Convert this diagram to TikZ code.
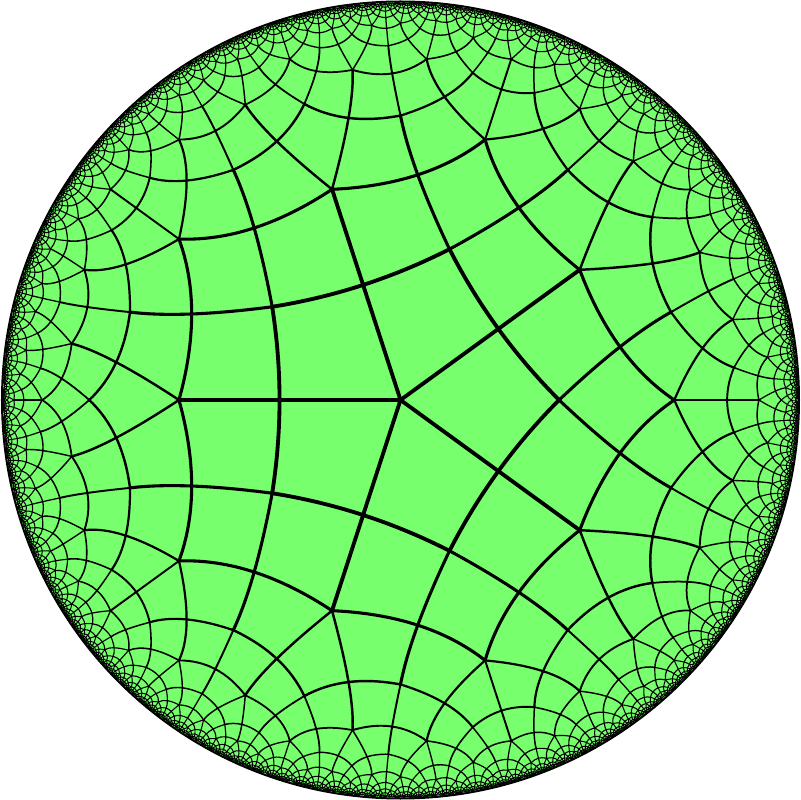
\documentclass[tikz,border=0pt]{standalone}
\usepackage{tikz}
\definecolor{hygreen}{RGB}{120,255,110}
\ExplSyntaxOn
\fp_const:Nn \c_hy_cot_fp { 1 / tan ( pi / 5 ) }
\fp_const:Nn \c_hy_rv_fp { sqrt ( ( \c_hy_cot_fp - 1 ) / ( \c_hy_cot_fp + 1 ) ) }
\fp_const:Nn \c_hy_al_fp { cos ( pi / 5 ) / sin ( pi / 4 ) }
\fp_const:Nn \c_hy_be_fp { sqrt ( \c_hy_al_fp ^ 2 - 1 ) }
\fp_const:Nn \c_hy_rm_fp { sqrt ( ( \c_hy_al_fp - 1 ) / ( \c_hy_al_fp + 1 ) ) }
\fp_const:Nn \c_hy_R_fp { 398.5 }
\fp_const:Nn \c_hy_eps_fp { 0.008 }
\fp_const:Nn \c_hy_wzero_fp { 3.3 }
\fp_const:Nn \c_hy_wmin_fp { 0.85 }
\int_step_inline:nnn { 0 } { 3 }
  {
    \fp_const:cn { c_hy_vx_#1_fp } { \c_hy_rv_fp * cosd ( -36 + 90 * #1 ) }
    \fp_const:cn { c_hy_vy_#1_fp } { \c_hy_rv_fp * sind ( -36 + 90 * #1 ) }
    \fp_const:cn { c_hy_mx_#1_fp } { \c_hy_rm_fp * cosd ( 9 + 90 * #1 ) }
    \fp_const:cn { c_hy_my_#1_fp } { \c_hy_rm_fp * sind ( 9 + 90 * #1 ) }
    \fp_const:cn { c_hy_s_#1_fp } { sind ( 9 + 90 * #1 ) }
    \fp_const:cn { c_hy_c_#1_fp } { cosd ( 9 + 90 * #1 ) }
    \fp_new:c { l_hy_Vx_#1_fp }
    \fp_new:c { l_hy_Vy_#1_fp }
    \fp_new:c { l_hy_Mx_#1_fp }
    \fp_new:c { l_hy_My_#1_fp }
  }
\fp_new:N \l_hy_ar_fp
\fp_new:N \l_hy_ai_fp
\fp_new:N \l_hy_br_fp
\fp_new:N \l_hy_bi_fp
\fp_new:N \l_hy_har_fp
\fp_new:N \l_hy_hai_fp
\fp_new:N \l_hy_hbr_fp
\fp_new:N \l_hy_hbi_fp
\fp_new:N \l_hy_cx_fp
\fp_new:N \l_hy_cy_fp
\fp_new:N \l_hy_nx_fp
\fp_new:N \l_hy_ny_fp
\fp_new:N \l_hy_px_fp
\fp_new:N \l_hy_py_fp
\fp_new:N \l_hy_nr_fp
\fp_new:N \l_hy_ni_fp
\fp_new:N \l_hy_dr_fp
\fp_new:N \l_hy_di_fp
\fp_new:N \l_hy_dd_fp
\fp_new:N \l_hy_w_fp
\int_new:N \g_hy_head_int
\int_new:N \g_hy_tail_int
\int_new:N \l_hy_pos_int
\tl_new:N \l_hy_key_tl
\tl_new:N \l_hy_self_tl
\fparray_new:Nn \g_hy_store_fparray { 64000 }

\cs_new_protected:Npn \hy_apply:NN #1#2
  {
    \fp_set:Nn \l_hy_nr_fp { \l_hy_ar_fp * #1 - \l_hy_ai_fp * #2 + \l_hy_br_fp }
    \fp_set:Nn \l_hy_ni_fp { \l_hy_ar_fp * #2 + \l_hy_ai_fp * #1 + \l_hy_bi_fp }
    \fp_set:Nn \l_hy_dr_fp { \l_hy_br_fp * #1 + \l_hy_bi_fp * #2 + \l_hy_ar_fp }
    \fp_set:Nn \l_hy_di_fp { \l_hy_br_fp * #2 - \l_hy_bi_fp * #1 - \l_hy_ai_fp }
    \fp_set:Nn \l_hy_dd_fp { \l_hy_dr_fp ^ 2 + \l_hy_di_fp ^ 2 }
    \fp_set:Nn \l_hy_px_fp { ( \l_hy_nr_fp * \l_hy_dr_fp + \l_hy_ni_fp * \l_hy_di_fp ) / \l_hy_dd_fp }
    \fp_set:Nn \l_hy_py_fp { ( \l_hy_ni_fp * \l_hy_dr_fp - \l_hy_nr_fp * \l_hy_di_fp ) / \l_hy_dd_fp }
  }
\cs_generate_variant:Nn \hy_apply:NN { cc }

\cs_new_protected:Npn \hy_center:NNNNNN #1#2#3#4#5#6
  {
    \fp_set:Nn \l_hy_dd_fp { #1 ^ 2 + #2 ^ 2 }
    \fp_set:Nn #5 { ( #3 * #1 - #4 * #2 ) / \l_hy_dd_fp }
    \fp_set:Nn #6 { ( #3 * #2 + #4 * #1 ) / \l_hy_dd_fp }
  }

\cs_new_protected:Npn \hy_key:NNN #1#2#3
  {
    \tl_set:Nx #3
      {
        \fp_eval:n { round ( #1 * 100000 + 200000 ) } /
        \fp_eval:n { round ( #2 * 100000 + 200000 ) }
      }
  }

\cs_new_protected:Npn \hy_curve:NNNNNN #1#2#3#4#5#6
  {
    \fp_set:Nn \l_hy_w_fp
      { \c_hy_wmin_fp + \c_hy_wzero_fp * abs ( 1 - #3 ^ 2 - #4 ^ 2 ) }
    \exp_args:Nx \pgfsetlinewidth { \fp_to_dim:N \l_hy_w_fp }
    \pgfpathmoveto
      { \pgfqpoint { \fp_to_dim:n { \c_hy_R_fp * #1 } } { \fp_to_dim:n { \c_hy_R_fp * #2 } } }
    \pgfpathcurveto
      { \pgfqpoint { \fp_to_dim:n { \c_hy_R_fp * ( 4 * #3 - #5 ) / 3 } }
                   { \fp_to_dim:n { \c_hy_R_fp * ( 4 * #4 - #6 ) / 3 } } }
      { \pgfqpoint { \fp_to_dim:n { \c_hy_R_fp * ( 4 * #3 - #1 ) / 3 } }
                   { \fp_to_dim:n { \c_hy_R_fp * ( 4 * #4 - #2 ) / 3 } } }
      { \pgfqpoint { \fp_to_dim:n { \c_hy_R_fp * #5 } } { \fp_to_dim:n { \c_hy_R_fp * #6 } } }
    \pgfusepath { stroke }
  }
\cs_generate_variant:Nn \hy_curve:NNNNNN { cccccc , NNccNN }

\cs_new_protected:Npn \hy_push:
  {
    \int_compare:nT { \g_hy_tail_int < 15990 }
      {
        \int_gincr:N \g_hy_tail_int
        \int_set:Nn \l_hy_pos_int { 4 * \g_hy_tail_int - 3 }
        \fparray_gset:Nnn \g_hy_store_fparray { \l_hy_pos_int } { \l_hy_har_fp }
        \fparray_gset:Nnn \g_hy_store_fparray { \l_hy_pos_int + 1 } { \l_hy_hai_fp }
        \fparray_gset:Nnn \g_hy_store_fparray { \l_hy_pos_int + 2 } { \l_hy_hbr_fp }
        \fparray_gset:Nnn \g_hy_store_fparray { \l_hy_pos_int + 3 } { \l_hy_hbi_fp }
        \cs_gset:cpn { hyq@ \l_hy_key_tl } { }
      }
  }

\cs_new_protected:Npn \hy_points:n #1
  {
    \hy_apply:cc { c_hy_vx_#1_fp } { c_hy_vy_#1_fp }
    \fp_set_eq:cN { l_hy_Vx_#1_fp } \l_hy_px_fp
    \fp_set_eq:cN { l_hy_Vy_#1_fp } \l_hy_py_fp
    \hy_apply:cc { c_hy_mx_#1_fp } { c_hy_my_#1_fp }
    \fp_set_eq:cN { l_hy_Mx_#1_fp } \l_hy_px_fp
    \fp_set_eq:cN { l_hy_My_#1_fp } \l_hy_py_fp
  }

\cs_new_protected:Npn \hy_edge:nn #1#2
  {
    \fp_set:Nn \l_hy_har_fp
      { - \c_hy_al_fp * \l_hy_ai_fp + \c_hy_be_fp * ( \l_hy_br_fp * \use:c { c_hy_s_#1_fp } - \l_hy_bi_fp * \use:c { c_hy_c_#1_fp } ) }
    \fp_set:Nn \l_hy_hai_fp
      { \c_hy_al_fp * \l_hy_ar_fp + \c_hy_be_fp * ( \l_hy_br_fp * \use:c { c_hy_c_#1_fp } + \l_hy_bi_fp * \use:c { c_hy_s_#1_fp } ) }
    \fp_set:Nn \l_hy_hbr_fp
      { \c_hy_be_fp * ( \l_hy_ar_fp * \use:c { c_hy_s_#1_fp } + \l_hy_ai_fp * \use:c { c_hy_c_#1_fp } ) + \c_hy_al_fp * \l_hy_bi_fp }
    \fp_set:Nn \l_hy_hbi_fp
      { \c_hy_be_fp * ( \l_hy_ai_fp * \use:c { c_hy_s_#1_fp } - \l_hy_ar_fp * \use:c { c_hy_c_#1_fp } ) - \c_hy_al_fp * \l_hy_br_fp }
    \hy_center:NNNNNN \l_hy_har_fp \l_hy_hai_fp \l_hy_hbr_fp \l_hy_hbi_fp \l_hy_nx_fp \l_hy_ny_fp
    \hy_key:NNN \l_hy_nx_fp \l_hy_ny_fp \l_hy_key_tl
    \cs_if_exist:cF { hyd@ \l_hy_key_tl }
      {
        \hy_curve:cccccc { l_hy_Vx_#1_fp } { l_hy_Vy_#1_fp } { l_hy_Mx_#1_fp } { l_hy_My_#1_fp } { l_hy_Vx_#2_fp } { l_hy_Vy_#2_fp }
        \hy_curve:NNccNN \l_hy_cx_fp \l_hy_cy_fp { l_hy_Mx_#1_fp } { l_hy_My_#1_fp } \l_hy_nx_fp \l_hy_ny_fp
        \cs_if_exist:cF { hyq@ \l_hy_key_tl }
          {
            \fp_compare:nT { 1 - \l_hy_nx_fp ^ 2 - \l_hy_ny_fp ^ 2 > \c_hy_eps_fp }
              { \hy_push: }
          }
      }
  }

\cs_new_protected:Npn \hy_process:
  {
    \int_set:Nn \l_hy_pos_int { 4 * \g_hy_head_int - 3 }
    \fp_set:Nn \l_hy_ar_fp { \fparray_item:Nn \g_hy_store_fparray { \l_hy_pos_int } }
    \fp_set:Nn \l_hy_ai_fp { \fparray_item:Nn \g_hy_store_fparray { \l_hy_pos_int + 1 } }
    \fp_set:Nn \l_hy_br_fp { \fparray_item:Nn \g_hy_store_fparray { \l_hy_pos_int + 2 } }
    \fp_set:Nn \l_hy_bi_fp { \fparray_item:Nn \g_hy_store_fparray { \l_hy_pos_int + 3 } }
    \hy_center:NNNNNN \l_hy_ar_fp \l_hy_ai_fp \l_hy_br_fp \l_hy_bi_fp \l_hy_cx_fp \l_hy_cy_fp
    \hy_key:NNN \l_hy_cx_fp \l_hy_cy_fp \l_hy_self_tl
    \hy_points:n { 0 }
    \hy_points:n { 1 }
    \hy_points:n { 2 }
    \hy_points:n { 3 }
    \hy_edge:nn { 0 } { 1 }
    \hy_edge:nn { 1 } { 2 }
    \hy_edge:nn { 2 } { 3 }
    \hy_edge:nn { 3 } { 0 }
    \cs_gset:cpn { hyd@ \l_hy_self_tl } { }
  }

\cs_new_protected:Npn \hy_draw_all:
  {
    \fp_set:Nn \l_hy_har_fp { 1 / sqrt ( 1 - \c_hy_rv_fp ^ 2 ) }
    \fp_set:Nn \l_hy_hai_fp { 0 }
    \fp_set:Nn \l_hy_hbr_fp { - \c_hy_rv_fp * cosd ( -36 ) * \l_hy_har_fp }
    \fp_set:Nn \l_hy_hbi_fp { - \c_hy_rv_fp * sind ( -36 ) * \l_hy_har_fp }
    \hy_center:NNNNNN \l_hy_har_fp \l_hy_hai_fp \l_hy_hbr_fp \l_hy_hbi_fp \l_hy_nx_fp \l_hy_ny_fp
    \hy_key:NNN \l_hy_nx_fp \l_hy_ny_fp \l_hy_key_tl
    \int_gzero:N \g_hy_tail_int
    \hy_push:
    \int_gset:Nn \g_hy_head_int { 1 }
    \pgfsetroundcap
    \int_while_do:nn { \g_hy_head_int <= \g_hy_tail_int }
      {
        \hy_process:
        \int_gincr:N \g_hy_head_int
      }
  }
\cs_new_protected:Npn \HypTilingDraw { \hy_draw_all: }
\ExplSyntaxOff

\begin{document}
\begin{tikzpicture}
  \useasboundingbox (-400.5pt,-400pt) rectangle (400.5pt,400pt);
  \fill[white] (-400.5pt,-400pt) rectangle (400.5pt,400pt);
  \fill[hygreen] (0,0) circle[radius=399pt];
  \HypTilingDraw
  \draw[line width=2pt] (0,0) circle[radius=398.5pt];
\end{tikzpicture}
\end{document}
